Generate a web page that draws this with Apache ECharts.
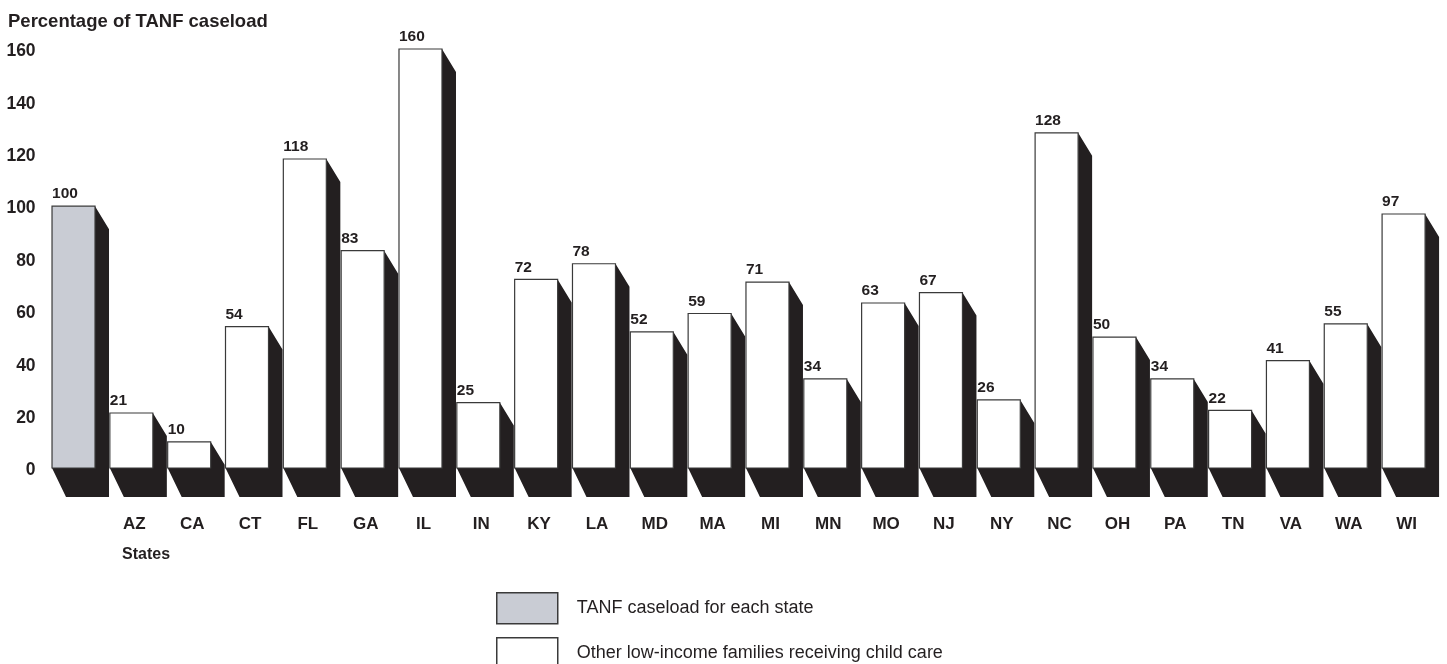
<!DOCTYPE html>
<html>
<head>
<meta charset="utf-8">
<script src="https://cdn.jsdelivr.net/npm/echarts@6/dist/echarts.min.js"></script>
<style>
html,body{margin:0;padding:0;background:#fff;}
#chart{width:1447px;height:664px;}
</style>
</head>
<body>
<div id="chart"></div>
<script>
const categories = ['', 'AZ','CA','CT','FL','GA','IL','IN','KY','LA','MD','MA','MI','MN','MO','NJ','NY','NC','OH','PA','TN','VA','WA','WI'];
const tanfValues = [100, null,null,null,null,null,null,null,null,null,null,null,null,null,null,null,null,null,null,null,null,null,null,null];
const otherValues = [null, 21,10,54,118,83,160,25,72,78,52,59,71,34,63,67,26,128,50,34,22,41,55,97];
const yTicks = [0,20,40,60,80,100,120,140,160];
const seriesNames = ['TANF caseload for each state', 'Other low-income families receiving child care'];

const SHADOW = '#231f20';
const GRAY = '#c9ccd4';
const FONT = "'Liberation Sans', Arial, Helvetica, sans-serif";

function renderBar(fill) {
  return function (params, api) {
    const v = api.value(1);
    if (v == null || isNaN(v)) return;
    const idx = api.value(0);
    const top = api.coord([idx, v]);
    const base = api.coord([idx, 0]);
    const band = api.size([1, 0])[0];
    const L = top[0] - band * 24.5 / 57.83;
    const W = band * 43 / 57.83;
    const R = L + W;
    const d = band * 14 / 57.83;
    const ty = top[1], by = base[1];
    return {
      type: 'group',
      children: [
        {
          type: 'polygon',
          shape: { points: [[R, ty], [R + d, ty + 23], [R + d, by + 29], [L + d, by + 29], [L, by], [R, by]] },
          style: { fill: SHADOW }
        },
        {
          type: 'rect',
          shape: { x: L, y: ty, width: W, height: by - ty },
          style: { fill: fill, stroke: '#3a3a3a', lineWidth: 1.2 }
        },
        {
          type: 'text',
          x: L, y: ty - 4,
          style: { text: String(v), fill: '#231f20', font: 'bold 15.5px ' + FONT, textAlign: 'left', textVerticalAlign: 'bottom' }
        }
      ]
    };
  };
}

function legendFor(name, color, top) {
  return {
    orient: 'vertical',
    left: 496, top: top,
    padding: 0,
    itemWidth: 61, itemHeight: 31,
    selectedMode: false,
    textStyle: { fontFamily: FONT, fontSize: 18, color: '#231f20', padding: [0, 0, 0, 14] },
    data: [{ name: name, icon: 'rect', itemStyle: { color: color, borderColor: '#3a3a3a', borderWidth: 1.5 } }]
  };
}

const chart = echarts.init(document.getElementById('chart'));
chart.setOption({
  animation: false,
  backgroundColor: '#fff',
  title: {
    text: 'Percentage of TANF caseload',
    left: 3, top: 7,
    textStyle: { fontFamily: FONT, fontWeight: 'bold', fontSize: 18.5, color: '#231f20' }
  },
  grid: { left: 47.6, right: 11.5, top: 49, bottom: 196, containLabel: false },
  xAxis: {
    type: 'category',
    data: categories,
    axisLine: { show: false },
    axisTick: { show: false },
    axisLabel: { margin: 48, fontFamily: FONT, fontWeight: 'bold', fontSize: 17, color: '#231f20' }
  },
  yAxis: {
    type: 'value',
    min: 0, max: 160, interval: 20,
    splitLine: { show: false },
    axisLine: { show: false },
    axisTick: { show: false },
    axisLabel: { margin: 12, verticalAlign: 'top', lineHeight: 5, fontFamily: FONT, fontWeight: 'bold', fontSize: 17.5, color: '#231f20' }
  },
  legend: [
    legendFor(seriesNames[0], GRAY, 592),
    legendFor(seriesNames[1], '#ffffff', 637)
  ],
  graphic: [
    { type: 'text', left: 122, top: 547, style: { text: 'States', font: 'bold 16px ' + FONT, fill: '#231f20' } }
  ],
  series: [
    {
      name: seriesNames[0],
      type: 'custom',
      renderItem: renderBar(GRAY),
      itemStyle: { color: GRAY, borderColor: '#3a3a3a' },
      encode: { x: 0, y: 1 },
      data: tanfValues.map((v, i) => [i, v])
    },
    {
      name: seriesNames[1],
      type: 'custom',
      renderItem: renderBar('#ffffff'),
      itemStyle: { color: '#fff', borderColor: '#3a3a3a' },
      encode: { x: 0, y: 1 },
      data: otherValues.map((v, i) => [i, v])
    }
  ]
});
</script>
</body>
</html>
